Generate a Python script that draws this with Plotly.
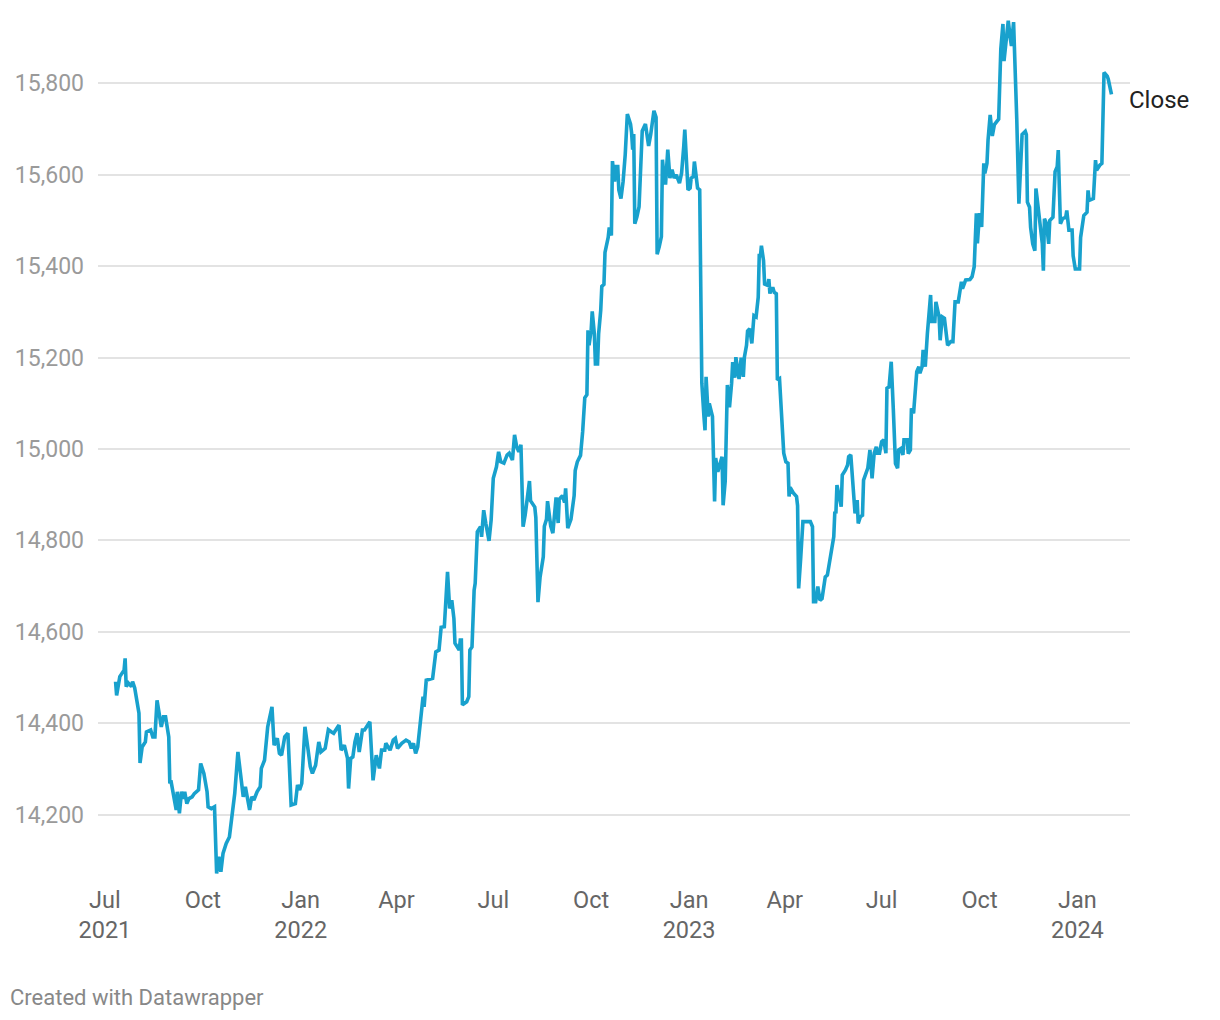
import plotly.graph_objects as go

dates = [
    "2021-07-11", "2021-07-12", "2021-07-15", "2021-07-19", "2021-07-20", "2021-07-21", "2021-07-23", "2021-07-26",
    "2021-07-27", "2021-07-29", "2021-08-02", "2021-08-03", "2021-08-05", "2021-08-08", "2021-08-09", "2021-08-13",
    "2021-08-15", "2021-08-17", "2021-08-19", "2021-08-22", "2021-08-23", "2021-08-25", "2021-08-27", "2021-08-30",
    "2021-08-31", "2021-09-01", "2021-09-03", "2021-09-06", "2021-09-07", "2021-09-09", "2021-09-11", "2021-09-13",
    "2021-09-14", "2021-09-16", "2021-09-18", "2021-09-21", "2021-09-23", "2021-09-25", "2021-09-27", "2021-09-29",
    "2021-10-02", "2021-10-05", "2021-10-06", "2021-10-09", "2021-10-12", "2021-10-14", "2021-10-16", "2021-10-18",
    "2021-10-20", "2021-10-23", "2021-10-26", "2021-10-27", "2021-10-31", "2021-11-03", "2021-11-06", "2021-11-08",
    "2021-11-10", "2021-11-12", "2021-11-14", "2021-11-16", "2021-11-18", "2021-11-21", "2021-11-24", "2021-11-25",
    "2021-11-28", "2021-12-01", "2021-12-05", "2021-12-07", "2021-12-10", "2021-12-12", "2021-12-14", "2021-12-17",
    "2021-12-20", "2021-12-23", "2021-12-27", "2021-12-29", "2021-12-31",
    "2022-01-02", "2022-01-05", "2022-01-08", "2022-01-10", "2022-01-12", "2022-01-15", "2022-01-18", "2022-01-20",
    "2022-01-24", "2022-01-27", "2022-01-30", "2022-02-01", "2022-02-04", "2022-02-06", "2022-02-08", "2022-02-11",
    "2022-02-14", "2022-02-15", "2022-02-17", "2022-02-19", "2022-02-21", "2022-02-23", "2022-02-25", "2022-02-28",
    "2022-03-02", "2022-03-05", "2022-03-07", "2022-03-10", "2022-03-13", "2022-03-16", "2022-03-18", "2022-03-21",
    "2022-03-22", "2022-03-26", "2022-03-29", "2022-03-31", "2022-04-02", "2022-04-06", "2022-04-10", "2022-04-13",
    "2022-04-15", "2022-04-17", "2022-04-19", "2022-04-21", "2022-04-24", "2022-04-26", "2022-04-27", "2022-04-29",
    "2022-05-05", "2022-05-08", "2022-05-11", "2022-05-13", "2022-05-16", "2022-05-17", "2022-05-19", "2022-05-21",
    "2022-05-23", "2022-05-25", "2022-05-26", "2022-05-30", "2022-05-31", "2022-06-01", "2022-06-02", "2022-06-06",
    "2022-06-08", "2022-06-09", "2022-06-11", "2022-06-13", "2022-06-14", "2022-06-16", "2022-06-19", "2022-06-20",
    "2022-06-22", "2022-06-24", "2022-06-27", "2022-06-29", "2022-07-01", "2022-07-04", "2022-07-06", "2022-07-08",
    "2022-07-11", "2022-07-14", "2022-07-16", "2022-07-19", "2022-07-21", "2022-07-23", "2022-07-25", "2022-07-27",
    "2022-07-29", "2022-07-31", "2022-08-02", "2022-08-04", "2022-08-05", "2022-08-09", "2022-08-10", "2022-08-12",
    "2022-08-14", "2022-08-17", "2022-08-18", "2022-08-20", "2022-08-21", "2022-08-24", "2022-08-26", "2022-08-27",
    "2022-08-29", "2022-08-31", "2022-09-01", "2022-09-04", "2022-09-06", "2022-09-07", "2022-09-09", "2022-09-12",
    "2022-09-14", "2022-09-15", "2022-09-16", "2022-09-18", "2022-09-21", "2022-09-23", "2022-09-25", "2022-09-27",
    "2022-09-28", "2022-09-29", "2022-10-01", "2022-10-02", "2022-10-04", "2022-10-05", "2022-10-07", "2022-10-08",
    "2022-10-10", "2022-10-11", "2022-10-13", "2022-10-14", "2022-10-17", "2022-10-18", "2022-10-20", "2022-10-21",
    "2022-10-23", "2022-10-24", "2022-10-26", "2022-10-27", "2022-10-29", "2022-10-31", "2022-11-02", "2022-11-04",
    "2022-11-07", "2022-11-08", "2022-11-09", "2022-11-10", "2022-11-11", "2022-11-13", "2022-11-15", "2022-11-17",
    "2022-11-18", "2022-11-21", "2022-11-24", "2022-11-26", "2022-11-29", "2022-12-01", "2022-12-02", "2022-12-04",
    "2022-12-06", "2022-12-07", "2022-12-09", "2022-12-10", "2022-12-11", "2022-12-12", "2022-12-14", "2022-12-16",
    "2022-12-18", "2022-12-20", "2022-12-23", "2022-12-25", "2022-12-27", "2022-12-28", "2022-12-31",
    "2023-01-02", "2023-01-03", "2023-01-05", "2023-01-06", "2023-01-08", "2023-01-09", "2023-01-11", "2023-01-13",
    "2023-01-15", "2023-01-16", "2023-01-17", "2023-01-19", "2023-01-20", "2023-01-23", "2023-01-25", "2023-01-26",
    "2023-01-28", "2023-01-31", "2023-02-01", "2023-02-02", "2023-02-04", "2023-02-06", "2023-02-08", "2023-02-10",
    "2023-02-11", "2023-02-13", "2023-02-14", "2023-02-17", "2023-02-19", "2023-02-21", "2023-02-22", "2023-02-24",
    "2023-02-25", "2023-02-27", "2023-03-01", "2023-03-03", "2023-03-05", "2023-03-07", "2023-03-08", "2023-03-09",
    "2023-03-10", "2023-03-12", "2023-03-13", "2023-03-16", "2023-03-17", "2023-03-18", "2023-03-19", "2023-03-21",
    "2023-03-22", "2023-03-24", "2023-03-25", "2023-03-27", "2023-03-29", "2023-03-30", "2023-03-31", "2023-04-02",
    "2023-04-04", "2023-04-05", "2023-04-06", "2023-04-09", "2023-04-12", "2023-04-13", "2023-04-14", "2023-04-16",
    "2023-04-18", "2023-04-25", "2023-04-27", "2023-04-28", "2023-04-30", "2023-05-02", "2023-05-04", "2023-05-06",
    "2023-05-07", "2023-05-09", "2023-05-11", "2023-05-14", "2023-05-17", "2023-05-18", "2023-05-19", "2023-05-20",
    "2023-05-22", "2023-05-24", "2023-05-25", "2023-05-28", "2023-05-30", "2023-05-31", "2023-06-02", "2023-06-04",
    "2023-06-06", "2023-06-08", "2023-06-09", "2023-06-11", "2023-06-13", "2023-06-14", "2023-06-16", "2023-06-18",
    "2023-06-20", "2023-06-22", "2023-06-24", "2023-06-26", "2023-06-27", "2023-06-29", "2023-07-01", "2023-07-03",
    "2023-07-05", "2023-07-06", "2023-07-08", "2023-07-09", "2023-07-10", "2023-07-12", "2023-07-14", "2023-07-16",
    "2023-07-17", "2023-07-19", "2023-07-21", "2023-07-22", "2023-07-25", "2023-07-26", "2023-07-28", "2023-07-29",
    "2023-07-31", "2023-08-03", "2023-08-05", "2023-08-06", "2023-08-08", "2023-08-09", "2023-08-11", "2023-08-13",
    "2023-08-16", "2023-08-17", "2023-08-20", "2023-08-21", "2023-08-24", "2023-08-25", "2023-08-27", "2023-08-29",
    "2023-09-01", "2023-09-04", "2023-09-06", "2023-09-08", "2023-09-11", "2023-09-14", "2023-09-15", "2023-09-18",
    "2023-09-22", "2023-09-24", "2023-09-26", "2023-09-28", "2023-09-29", "2023-10-01", "2023-10-03", "2023-10-05",
    "2023-10-06", "2023-10-08", "2023-10-09", "2023-10-11", "2023-10-13", "2023-10-15", "2023-10-17", "2023-10-19",
    "2023-10-21", "2023-10-23", "2023-10-24", "2023-10-26", "2023-10-28", "2023-10-30", "2023-10-31", "2023-11-02",
    "2023-11-04", "2023-11-05", "2023-11-07", "2023-11-09", "2023-11-10", "2023-11-13", "2023-11-14", "2023-11-15",
    "2023-11-17", "2023-11-18", "2023-11-20", "2023-11-22", "2023-11-23", "2023-11-24", "2023-11-26", "2023-11-29",
    "2023-11-30", "2023-12-01", "2023-12-03", "2023-12-05", "2023-12-06", "2023-12-09", "2023-12-11", "2023-12-13",
    "2023-12-14", "2023-12-16", "2023-12-18", "2023-12-21", "2023-12-22", "2023-12-24", "2023-12-27", "2023-12-28",
    "2023-12-30",
    "2024-01-03", "2024-01-04", "2024-01-06", "2024-01-07", "2024-01-10", "2024-01-11", "2024-01-12", "2024-01-16",
    "2024-01-18", "2024-01-19", "2024-01-22", "2024-01-24", "2024-01-26", "2024-01-29", "2024-01-30", "2024-02-01",
    "2024-02-02",
]

close = [
    14491, 14461, 14502, 14516, 14542, 14480, 14488, 14480,
    14491, 14477, 14422, 14313, 14348, 14359, 14381, 14385,
    14370, 14370, 14450, 14414, 14392, 14414, 14414, 14370,
    14268, 14275, 14246, 14210, 14250, 14203, 14250, 14235,
    14250, 14224, 14235, 14239, 14246, 14250, 14254, 14312,
    14290, 14250, 14217, 14213, 14217, 14071, 14108, 14075,
    14115, 14137, 14151, 14170, 14246, 14337, 14283, 14239,
    14261, 14232, 14210, 14239, 14232, 14250, 14261, 14301,
    14319, 14392, 14436, 14352, 14367, 14334, 14330, 14370,
    14378, 14221, 14224, 14265, 14254,
    14268, 14392, 14341, 14305, 14290, 14308, 14359, 14337,
    14345, 14386, 14381, 14378, 14389, 14396, 14341, 14352,
    14323, 14257, 14323, 14326, 14359, 14378, 14337, 14385,
    14385, 14396, 14403, 14275, 14330, 14301, 14341, 14341,
    14356, 14341, 14363, 14367, 14345, 14356, 14363, 14359,
    14345, 14356, 14334, 14348, 14410, 14458, 14436, 14494,
    14498, 14556, 14560, 14610, 14611, 14648, 14731, 14651,
    14669, 14629, 14575, 14560, 14582, 14582, 14440, 14447,
    14458, 14560, 14567, 14691, 14706, 14819, 14830, 14808,
    14866, 14837, 14799, 14845, 14936, 14961, 14994, 14972,
    14969, 14987, 14991, 14976, 15031, 15005, 14994, 15009,
    14830, 14856, 14888, 14930, 14887, 14873, 14850, 14665,
    14720, 14764, 14831, 14846, 14886, 14831, 14816, 14838,
    14894, 14838, 14890, 14898, 14883, 14914, 14827, 14846,
    14894, 14898, 14953, 14972, 14986, 15038, 15112, 15119,
    15260, 15227, 15260, 15301, 15252, 15186, 15186, 15252,
    15304, 15356, 15360, 15430, 15463, 15485, 15467, 15630,
    15585, 15618, 15618, 15567, 15548, 15585, 15644, 15733,
    15711, 15692, 15655, 15689, 15493, 15508, 15530, 15681,
    15696, 15711, 15663, 15689, 15740, 15726, 15426, 15443,
    15465, 15633, 15582, 15582, 15618, 15655, 15593, 15611,
    15593, 15600, 15582, 15604, 15662, 15699, 15567,
    15571, 15593, 15596, 15629, 15596, 15571, 15567, 15144,
    15071, 15041, 15158, 15071, 15100, 15071, 14885, 14980,
    14950, 14976, 14983, 14877, 14930, 15140, 15091, 15144,
    15190, 15156, 15201, 15153, 15200, 15158, 15201, 15227,
    15258, 15263, 15231, 15292, 15289, 15332, 15427, 15420,
    15445, 15412, 15361, 15358, 15372, 15340, 15351, 15351,
    15343, 15340, 15151, 15154, 15085, 15045, 14991, 14972,
    14969, 14896, 14916, 14904, 14896, 14876, 14695, 14764,
    14841, 14841, 14830, 14666, 14666, 14699, 14669, 14673,
    14691, 14720, 14724, 14768, 14808, 14863, 14859, 14921,
    14896, 14874, 14943, 14954, 14965, 14983, 14987, 14932,
    14859, 14888, 14837, 14852, 14855, 14932, 14943, 14958,
    14998, 14936, 14991, 15005, 14991, 14991, 15016, 15020,
    14991, 15133, 15136, 15162, 15191, 15085, 14968, 14958,
    14998, 15001, 14987, 15020, 15020, 14990, 14998, 15089,
    15078, 15169, 15180, 15166, 15180, 15217, 15180, 15253,
    15337, 15279, 15279, 15322, 15289, 15238, 15289, 15286,
    15227, 15235, 15235, 15322, 15322, 15366, 15351, 15370,
    15371, 15377, 15399, 15516, 15450, 15516, 15486, 15625,
    15603, 15625, 15676, 15731, 15685, 15710, 15716, 15722,
    15875, 15930, 15849, 15897, 15937, 15897, 15882, 15934,
    15816, 15721, 15537, 15647, 15688, 15695, 15688, 15540,
    15529, 15485, 15449, 15434, 15570, 15551, 15507, 15449,
    15390, 15504, 15493, 15449, 15500, 15507, 15607, 15618,
    15654, 15493, 15504, 15507, 15522, 15479, 15479, 15423,
    15394,
    15394, 15463, 15493, 15511, 15518, 15566, 15544, 15548,
    15632, 15610, 15621, 15625, 15824, 15816, 15809, 15779,
    15776,
]

series_name = "Close"

y_tick_values = [14200, 14400, 14600, 14800, 15000, 15200, 15400, 15600, 15800]

x_tick_dates = [
    "2021-07-01", "2021-10-01", "2022-01-01", "2022-04-01", "2022-07-01", "2022-10-01",
    "2023-01-01", "2023-04-01", "2023-07-01", "2023-10-01", "2024-01-01",
]
x_tick_text = [
    "Jul<br>2021", "Oct", "Jan<br>2022", "Apr", "Jul", "Oct",
    "Jan<br>2023", "Apr", "Jul", "Oct", "Jan<br>2024",
]

credit_text = "Created with Datawrapper"

LINE_COLOR = "#18a1cd"
FONT = "Roboto, 'Noto Sans', sans-serif"

fig = go.Figure()
fig.add_trace(go.Scatter(
    x=dates, y=close, mode="lines", name=series_name,
    line=dict(color=LINE_COLOR, width=3.6, shape="linear"),
    hoverinfo="x+y",
))

fig.add_annotation(
    x=dates[-1], y=close[-1], xref="x", yref="y",
    text=series_name, showarrow=False, xanchor="left", yanchor="middle",
    xshift=16, yshift=-6,
    font=dict(family=FONT, size=24, color="#222222"),
)

fig.add_annotation(
    x=-0.087, y=-0.1353, xref="paper", yref="paper",
    text=credit_text, showarrow=False, xanchor="left", yanchor="middle",
    font=dict(family=FONT, size=22, color="#888888"),
)

fig.update_layout(
    width=1220, height=1020,
    margin=dict(l=87, r=98, t=7, b=148, pad=0),
    plot_bgcolor="white", paper_bgcolor="white",
    showlegend=False,
    font=dict(family=FONT),
    xaxis=dict(
        type="date",
        range=["2021-06-24 12:00", "2024-02-19 10:00"],
        tickmode="array", tickvals=x_tick_dates, ticktext=x_tick_text,
        showgrid=False, zeroline=False, showline=False, ticks="",
        tickfont=dict(family=FONT, size=23.5, color="#666666"),
        ticklabelstandoff=3,
    ),
    yaxis=dict(
        range=[14056.9, 15949.7],
        tickmode="array", tickvals=y_tick_values,
        tickformat=",",
        showgrid=True, gridcolor="#e3e3e3", gridwidth=1.5,
        zeroline=False, showline=False, ticks="",
        tickfont=dict(family=FONT, size=23, color="#9a9a9a"),
        ticklabelstandoff=13,
    ),
)

fig.write_html("out.html")
